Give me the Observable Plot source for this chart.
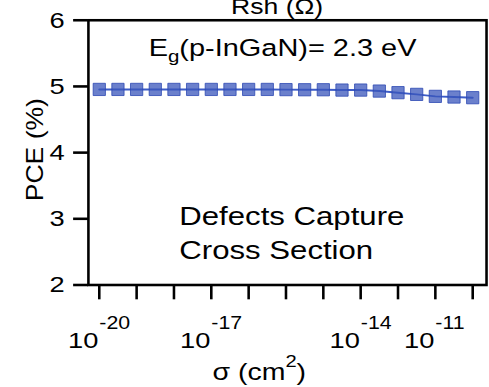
<!DOCTYPE html>
<html><head><meta charset="utf-8">
<script src="https://cdn.jsdelivr.net/npm/d3@7"></script>
<script src="https://cdn.jsdelivr.net/npm/@observablehq/plot@0.6"></script>
<style>
body{margin:0;background:#fff}
#chart{width:489px;height:387px;overflow:hidden;position:relative}
</style></head><body><div id="chart"></div>
<script>
// data
const sigma = [1e-20, 3.16e-20, 1e-19, 3.16e-19, 1e-18, 3.16e-18, 1e-17, 3.16e-17, 1e-16, 3.16e-16, 1e-15, 3.16e-15, 1e-14, 3.16e-14, 1e-13, 3.16e-13, 1e-12, 3.16e-12, 1e-11, 3.16e-11, 1e-10];
const pce = [4.955, 4.955, 4.955, 4.955, 4.955, 4.955, 4.955, 4.955, 4.955, 4.955, 4.952, 4.95, 4.95, 4.945, 4.945, 4.93, 4.906, 4.88, 4.85, 4.84, 4.83];
const xTicks = [1e-20, 1e-19, 1e-18, 1e-17, 1e-16, 1e-15, 1e-14, 1e-13, 1e-12, 1e-11, 1e-10];
const xLabelTicks = [1e-20, 1e-17, 1e-14, 1e-11];
const xLabelExponents = ["-20", "-17", "-14", "-11"];
const yTicks = [2, 3, 4, 5, 6];
const topLabel = "Rsh (\u03A9)";
const yLabel = "PCE (%)";
const xLabel = "\u03C3 (cm2)";
const bandGapText = "Eg(p-InGaN)= 2.3 eV";
const noteText = "Defects Capture\nCross Section";

const data = sigma.map((s, i) => ({sigma: s, pce: pce[i]}));
const labels = xLabelTicks.map((v, i) => ({v, e: xLabelExponents[i]}));
const FONT = "'Liberation Sans', Arial, sans-serif";

const plot = Plot.plot({
  width: 495, height: 387,
  marginLeft: 89, marginRight: 3, marginTop: 20, marginBottom: 99,
  style: {fontFamily: FONT, fontSize: "23px", color: "#000", background: "#fff", overflow: "visible"},
  x: {type: "log", domain: [1e-20, 1e-10], range: [100, 478]},
  y: {domain: [2, 6], range: [288, 20]},
  marks: [
    Plot.frame({stroke: "#000", strokeWidth: 2.6}),
    Plot.axisY({ticks: yTicks, tickSize: 15, tickPadding: 9, tickFormat: d => String(d), label: null, strokeWidth: 2.6, fontSize: 23}),
    Plot.axisX({ticks: xTicks, tickSize: 15, tickFormat: () => "", label: null, strokeWidth: 2.6}),
    Plot.line(data, {x: "sigma", y: "pce", stroke: "#3d5cc6", strokeWidth: 2}),
    Plot.dot(data, {x: "sigma", y: "pce", symbol: "square", r: 7, fill: "#3a56bb", fillOpacity: 0.75, stroke: "#2b47b3", strokeOpacity: 0.8, strokeWidth: 1}),
    Plot.text(labels, {filter: d => d.e !== "-14", x: "v", text: () => "10", frameAnchor: "bottom", textAnchor: "end", lineAnchor: "bottom", dy: 64, dx: -1, fontSize: 23}),
    Plot.text(labels, {filter: d => d.e !== "-14", x: "v", text: "e", frameAnchor: "bottom", textAnchor: "start", lineAnchor: "bottom", dy: 45, dx: 0, fontSize: 18}),
    Plot.text(labels, {filter: d => d.e === "-14", x: "v", text: () => "10", frameAnchor: "bottom", textAnchor: "end", lineAnchor: "bottom", dy: 64, dx: 37, fontSize: 23}),
    Plot.text(labels, {filter: d => d.e === "-14", x: "v", text: "e", frameAnchor: "bottom", textAnchor: "start", lineAnchor: "bottom", dy: 45, dx: 38, fontSize: 18}),
    Plot.text([topLabel], {text: d => d, frameAnchor: "top-left", dx: 191, dy: -6, textAnchor: "middle", lineAnchor: "bottom", fontSize: 23}),
    Plot.text([bandGapText], {text: d => d, frameAnchor: "top-left", dx: 61, dy: 36, textAnchor: "start", lineAnchor: "bottom", fontSize: 24}),
    Plot.text([noteText], {text: d => d, frameAnchor: "top-left", dx: 92, dy: 242, textAnchor: "start", lineAnchor: "bottom", lineHeight: 1.32, fontSize: 26.5}),
    Plot.text([yLabel], {text: d => d, frameAnchor: "left", dx: -46, dy: -3, rotate: -90, textAnchor: "middle", lineAnchor: "bottom", fontSize: 24}),
    Plot.text([xLabel], {text: d => d, frameAnchor: "bottom-left", dx: 173, dy: 96, textAnchor: "middle", lineAnchor: "bottom", fontSize: 24})
  ]
});

const svg = d3.select(plot);
// rebuild sub/superscripts
svg.selectAll("text").each(function() {
  const t = d3.select(this);
  const s = this.textContent;
  if (s === bandGapText) {
    t.text(null);
    t.append("tspan").text("E");
    t.append("tspan").attr("font-size", 17).attr("dy", 6).text("g");
    t.append("tspan").attr("dy", -6).text("(p-InGaN)= 2.3 eV");
  } else if (s === xLabel) {
    t.text(null);
    t.append("tspan").text("\u03C3 (cm");
    t.append("tspan").attr("font-size", 17).attr("dy", -13).text("2");
    t.append("tspan").attr("dy", 13).text(")");
  }
});
// the reference lettering is drawn wide
function stretchFor(s) {
  if (s.startsWith("Eg")) return 1.22;
  if (s.startsWith("Defects")) return 1.19;
  if (s === yLabel) return 1.12;
  if (s === topLabel) return 1.17;
  return 1.2;
}
svg.selectAll("text").each(function() {
  const sx = stretchFor(this.textContent);
  const tr = this.getAttribute("transform");
  if (tr) {
    this.setAttribute("transform", tr + ` scale(${sx},1)`);
  } else {
    const x = +(this.getAttribute("x") || 0), y = +(this.getAttribute("y") || 0);
    this.removeAttribute("x"); this.removeAttribute("y");
    this.setAttribute("transform", `translate(${x},${y}) scale(${sx},1)`);
  }
});
document.getElementById("chart").append(plot);
</script></body></html>
